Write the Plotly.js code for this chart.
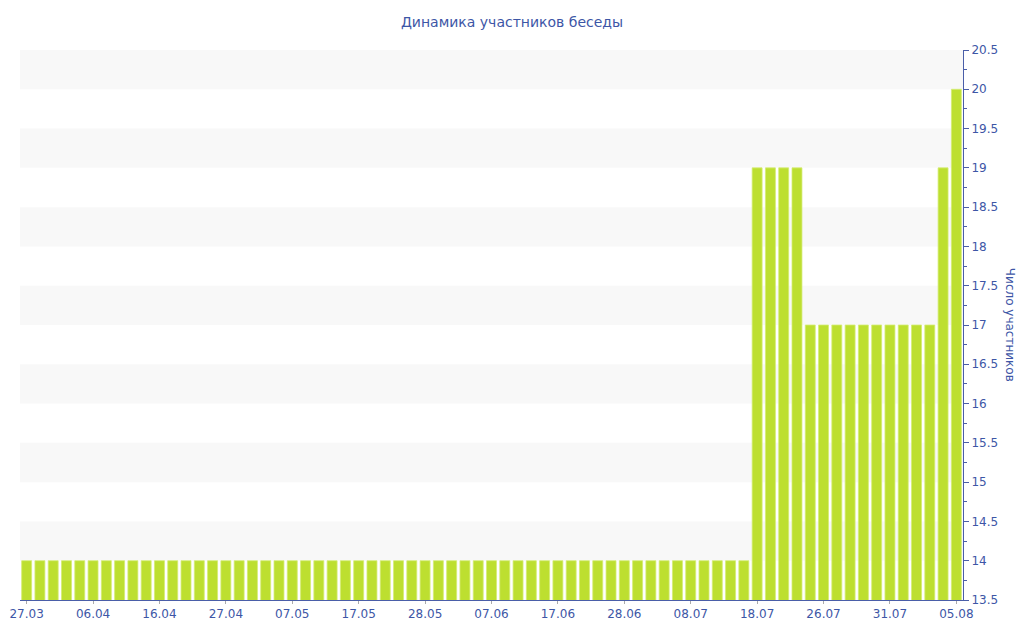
<!DOCTYPE html>
<html>
  <head>
    <meta charset="utf-8" />
    <title>Динамика участников беседы</title>
    <script src="https://cdn.plot.ly/plotly-3.0.1.min.js"></script>
    <style>
      body { margin: 0; padding: 0; background: white; }
      #graphDiv { width: 1024px; height: 640px; }
    </style>
  </head>
  <body>
    <div id="graphDiv"></div>
    <script>
      const dates = [
        "27.03", "29.03", "31.03", "02.04", "04.04",
        "06.04", "08.04", "10.04", "12.04", "14.04",
        "16.04", "18.04", "20.04", "23.04", "25.04",
        "27.04", "29.04", "01.05", "03.05", "05.05",
        "07.05", "09.05", "11.05", "13.05", "15.05",
        "17.05", "19.05", "21.05", "24.05", "26.05",
        "28.05", "30.05", "01.06", "03.06", "05.06",
        "07.06", "09.06", "11.06", "13.06", "15.06",
        "17.06", "19.06", "21.06", "24.06", "26.06",
        "28.06", "30.06", "02.07", "04.07", "06.07",
        "08.07", "10.07", "12.07", "14.07", "16.07",
        "18.07", "20.07", "21.07", "23.07", "24.07",
        "26.07", "27.07", "28.07", "29.07", "30.07",
        "31.07", "01.08", "02.08", "03.08", "04.08",
        "05.08",
      ];
      const members = [
        14, 14, 14, 14, 14, 14, 14, 14, 14, 14,
        14, 14, 14, 14, 14, 14, 14, 14, 14, 14,
        14, 14, 14, 14, 14, 14, 14, 14, 14, 14,
        14, 14, 14, 14, 14, 14, 14, 14, 14, 14,
        14, 14, 14, 14, 14, 14, 14, 14, 14, 14,
        14, 14, 14, 14, 14,
        19, 19, 19, 19,
        17, 17, 17, 17, 17, 17, 17, 17, 17, 17,
        19, 20,
      ];
      const tick_dates = [
        "27.03", "06.04", "16.04", "27.04", "07.05", "17.05", "28.05", "07.06",
        "17.06", "28.06", "08.07", "18.07", "26.07", "31.07", "05.08",
      ];

      const text_color = "#3d56a6";
      const axis_color = "#4a5ea8";
      const y_min = 13.5;
      const y_max = 20.5;

      // striped background: grey band on every upper half of a whole number
      const shapes = [];
      for (let v = Math.ceil(y_min); v < y_max; v += 1) {
        shapes.push({
          type: "rect",
          xref: "paper",
          yref: "y",
          x0: 0,
          x1: 1,
          y0: v,
          y1: v + 0.5,
          fillcolor: "#f8f8f8",
          line: { width: 0 },
          layer: "below",
        });
      }

      const traces = [
        {
          type: "bar",
          x: dates,
          y: members,
          marker: {
            color: "#bddf30",
            line: { color: "#d4ec74", width: 0.8 },
          },
          hoverinfo: "x+y",
        },
      ];

      const layout = {
        width: 1024,
        height: 640,
        showlegend: false,
        paper_bgcolor: "white",
        plot_bgcolor: "white",
        margin: { l: 20, r: 61, t: 50, b: 40 },
        bargap: 0.25,
        font: { family: "DejaVu Sans", size: 12, color: text_color },
        title: {
          text: "Динамика участников беседы",
          font: { family: "DejaVu Sans", size: 14, color: text_color },
          x: 0.5,
          xanchor: "center",
          y: 0.965,
          yanchor: "middle",
        },
        xaxis: {
          type: "category",
          tickmode: "array",
          tickvals: tick_dates,
          ticktext: tick_dates,
          tickangle: 0,
          showgrid: false,
          zeroline: false,
          showline: true,
          linecolor: axis_color,
          linewidth: 1,
          ticks: "outside",
          ticklen: 3,
          tickcolor: "#aaaaaa",
          tickfont: { family: "DejaVu Sans", size: 12, color: text_color },
        },
        yaxis: {
          side: "right",
          range: [y_min, y_max],
          dtick: 0.5,
          showgrid: false,
          zeroline: false,
          showline: true,
          linecolor: axis_color,
          linewidth: 1,
          ticks: "outside",
          ticklen: 5,
          tickcolor: axis_color,
          minor: { dtick: 0.25, ticks: "outside", ticklen: 3, tickcolor: axis_color },
          tickfont: { family: "DejaVu Sans", size: 12, color: text_color },
        },
        shapes: shapes,
        annotations: [
          {
            text: "Число участников",
            xref: "paper",
            yref: "paper",
            x: 1.05,
            y: 0.5,
            xanchor: "center",
            yanchor: "middle",
            textangle: 90,
            showarrow: false,
            font: { family: "DejaVu Sans", size: 12, color: text_color },
          },
        ],
      };

      Plotly.newPlot("graphDiv", traces, layout, { displayModeBar: false });
    </script>
  </body>
</html>
